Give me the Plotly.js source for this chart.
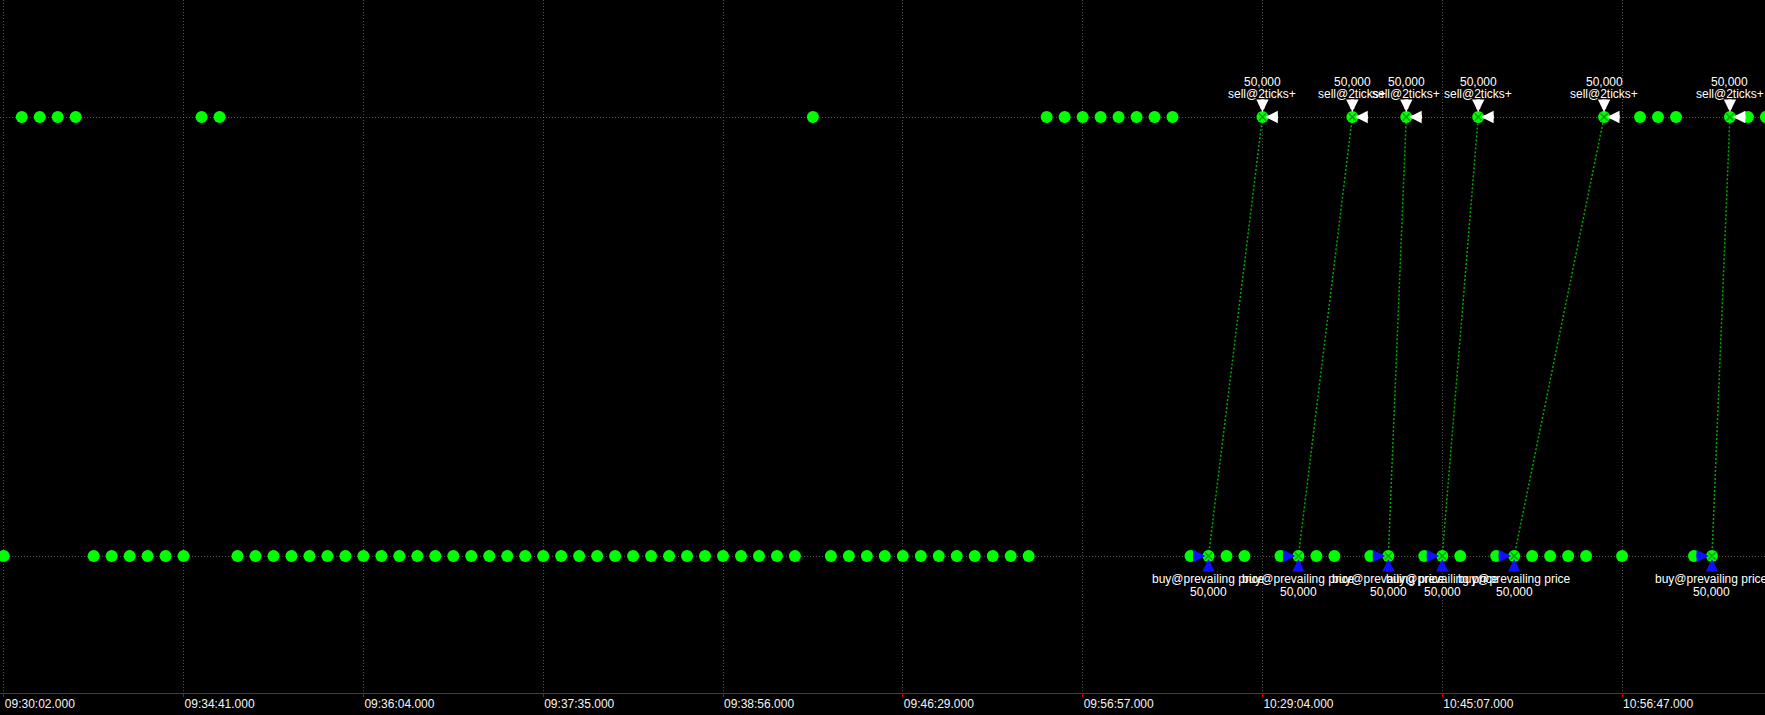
<!DOCTYPE html>
<html>
<head>
<meta charset="utf-8">
<script src="https://cdn.plot.ly/plotly-3.0.1.min.js"></script>
<style>
html,body{margin:0;padding:0;background:#000;}
#chart{width:1765px;height:715px;}
</style>
</head>
<body>
<div id="chart"></div>
<script>
// Trade sequence index (one print per index) and the price level of each print
var priceLow = 10.00;
var priceHigh = 10.02;
var tradePrice = [
  10.00,
  10.02, 10.02, 10.02, 10.02,
  10.00, 10.00, 10.00, 10.00, 10.00, 10.00,
  10.02, 10.02,
  10.00, 10.00, 10.00, 10.00, 10.00, 10.00, 10.00, 10.00, 10.00, 10.00,
  10.00, 10.00, 10.00, 10.00, 10.00, 10.00, 10.00, 10.00, 10.00, 10.00,
  10.00, 10.00, 10.00, 10.00, 10.00, 10.00, 10.00, 10.00, 10.00, 10.00,
  10.00, 10.00,
  10.02,
  10.00, 10.00, 10.00, 10.00, 10.00, 10.00, 10.00, 10.00, 10.00, 10.00, 10.00, 10.00,
  10.02, 10.02, 10.02, 10.02, 10.02, 10.02, 10.02, 10.02,
  10.00, 10.00, 10.00, 10.00,
  10.02,
  10.00, 10.00, 10.00, 10.00,
  10.02,
  10.00, 10.00,
  10.02,
  10.00, 10.00, 10.00,
  10.02,
  10.00, 10.00, 10.00, 10.00, 10.00, 10.00,
  10.02,
  10.00,
  10.02, 10.02, 10.02,
  10.00, 10.00,
  10.02, 10.02, 10.02
];
var tradeIndex = tradePrice.map(function(p, i){ return i; });

// Tick labels (every 10th print)
var tickIndex = [0, 10, 20, 30, 40, 50, 60, 70, 80, 90];
var tickText = ["09:30:02.000", "09:34:41.000", "09:36:04.000", "09:37:35.000", "09:38:56.000",
                "09:46:29.000", "09:56:57.000", "10:29:04.000", "10:45:07.000", "10:56:47.000"];

// Order fills
var buyIndex  = [67, 72, 77, 80, 84, 95];
var sellIndex = [70, 75, 78, 82, 89, 96];
var buyQty  = ["50,000", "50,000", "50,000", "50,000", "50,000", "50,000"];
var sellQty = ["50,000", "50,000", "50,000", "50,000", "50,000", "50,000"];
var buyLabel = "buy@prevailing price";
var sellLabel = "sell@2ticks+";

var buyPrice = buyIndex.map(function(i){ return tradePrice[i]; });
var sellPrice = sellIndex.map(function(i){ return tradePrice[i]; });

// connector lines buy -> sell
var linkX = [], linkY = [];
for (var k = 0; k < buyIndex.length; k++) {
  linkX.push(buyIndex[k], sellIndex[k], null);
  linkY.push(buyPrice[k], sellPrice[k], null);
}

var traces = [
  {x: linkX, y: linkY, mode: 'lines', type: 'scatter', hoverinfo: 'skip',
   line: {color: '#00a800', width: 1.5, dash: '2px,2px'}, showlegend: false},
  {x: tradeIndex, y: tradePrice, mode: 'markers', type: 'scatter',
   marker: {color: '#00ff00', size: 12, line: {width: 0}}, showlegend: false},
  {x: buyIndex.concat(sellIndex), y: buyPrice.concat(sellPrice), mode: 'markers', type: 'scatter',
   marker: {symbol: 'x-thin-open', color: '#00a000', size: 7, line: {color: '#009a00', width: 1.5}},
   hoverinfo: 'skip', showlegend: false}
];

var font = {family: '"Liberation Sans", Arial, sans-serif', size: 12, color: '#ffffff'};
var ann = [];
function arrow(x, y, ax, ay, color, standoff) {
  ann.push({x: x, y: y, xref: 'x', yref: 'y', text: '', showarrow: true,
    ax: ax, ay: ay, arrowcolor: color, arrowwidth: 4, arrowhead: 2, arrowsize: 0.62,
    standoff: standoff});
}
for (var s = 0; s < sellIndex.length; s++) {
  arrow(sellIndex[s], sellPrice[s], 0, -19, '#ffffff', 5);
  arrow(sellIndex[s], sellPrice[s], 17, 0, '#ffffff', 3);
  ann.push({x: sellIndex[s], y: sellPrice[s], text: sellQty[s], showarrow: false, yshift: 35, font: font});
  ann.push({x: sellIndex[s], y: sellPrice[s], text: sellLabel, showarrow: false, yshift: 23, font: font});
}
for (var b = 0; b < buyIndex.length; b++) {
  arrow(buyIndex[b], buyPrice[b], -17, 0, '#1010ff', 3);
  arrow(buyIndex[b], buyPrice[b], 0, 17, '#1010ff', 3);
  ann.push({x: buyIndex[b], y: buyPrice[b], text: buyLabel, showarrow: false, yshift: -23, font: font});
  ann.push({x: buyIndex[b], y: buyPrice[b], text: buyQty[b], showarrow: false, yshift: -36, font: font});
}

var layout = {
  width: 1765, height: 715,
  margin: {l: 0, r: 0, t: 0, b: 22, pad: 0},
  paper_bgcolor: '#000000', plot_bgcolor: '#000000',
  showlegend: false,
  font: font,
  xaxis: {
    range: [-0.21, 97.95], tickmode: 'array', tickvals: tickIndex, ticktext: tickText,
    ticklabelposition: 'outside right',
    showgrid: true, gridcolor: '#505050', griddash: '1px,2px', gridwidth: 1,
    zeroline: false, showline: true, linecolor: '#d00000', linewidth: 1,
    ticks: 'outside', ticklen: 3, tickcolor: '#d00000',
    tickfont: {family: '"Liberation Sans", Arial, sans-serif', size: 12, color: '#f4f4f4'},
    fixedrange: true
  },
  yaxis: {
    range: [9.99376, 10.02533], tickmode: 'array', tickvals: [priceLow, priceHigh],
    showticklabels: false, showgrid: true, gridcolor: '#505050', griddash: '1px,2px', gridwidth: 1,
    zeroline: false, showline: false, ticks: '', fixedrange: true
  },
  annotations: ann
};

Plotly.newPlot('chart', traces, layout, {displayModeBar: false, staticPlot: true});
</script>
</body>
</html>
